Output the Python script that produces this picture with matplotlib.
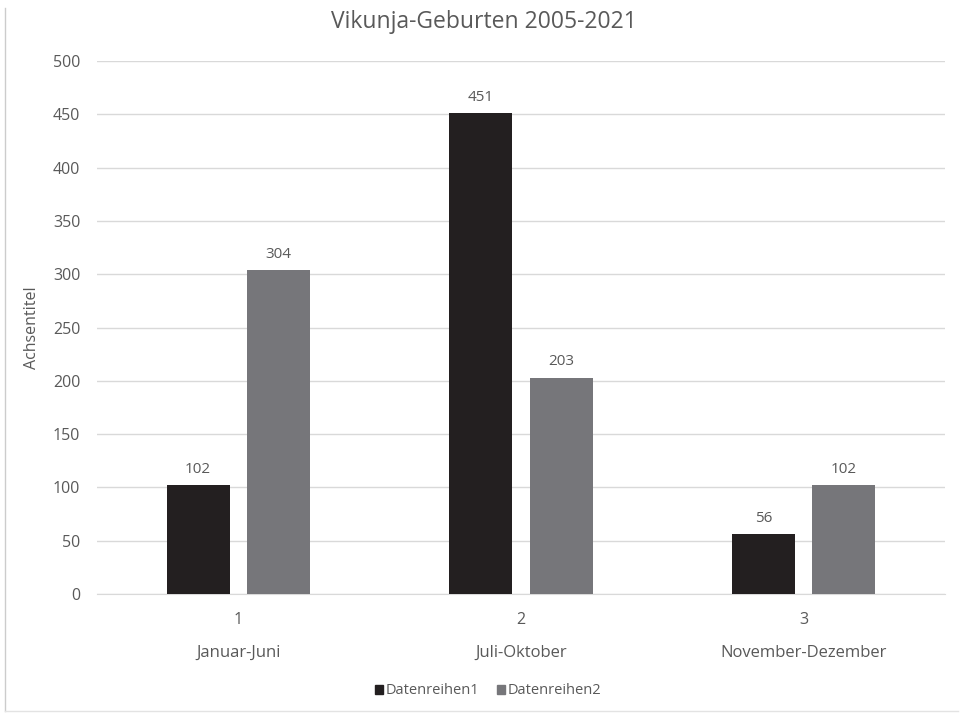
import matplotlib
matplotlib.use("Agg")
import matplotlib.pyplot as plt
import numpy as np
from matplotlib.patches import Patch
from matplotlib.lines import Line2D

plt.rcParams["font.family"] = ["Open Sans", "DejaVu Sans"]

# ── data ─────────────────────────────────────────────────────────────
tick_nums  = ["1", "2", "3"]
categories = ["Januar-Juni", "Juli-Oktober", "November-Dezember"]
series1    = [102, 451, 56]
series2    = [304, 203, 102]
names      = ["Datenreihen1", "Datenreihen2"]

TXT   = "#595959"
GRID  = "#d9d9d9"
C1, C2 = "#231f20", "#76767a"

fig = plt.figure(figsize=(9.63, 7.15), dpi=100)
ax = fig.add_axes([97/963, 1-594/715, 848/963, 533/715])

x = np.arange(len(categories))
w, off = 0.223, 0.142
b1 = ax.bar(x - off, series1, w, color=C1, zorder=3)
b2 = ax.bar(x + off, series2, w, color=C2, zorder=3)

for bars in (b1, b2):
    for r in bars:
        ax.annotate(f"{int(r.get_height())}", (r.get_x() + r.get_width()/2, r.get_height()),
                    xytext=(0, 6), textcoords="offset points", ha="center", va="bottom",
                    fontsize=11, color=TXT)

ax.set_xlim(-0.5, 2.5)
ax.set_ylim(0, 500)
ax.set_yticks(range(0, 501, 50))
ax.yaxis.grid(True, color=GRID, linewidth=1, zorder=0)
ax.tick_params(axis="y", length=0, pad=12, labelsize=11.5, labelcolor=TXT)
ax.set_xticks(x)
ax.set_xticklabels(tick_nums)
ax.tick_params(axis="x", length=0, pad=13, labelsize=11.5, labelcolor=TXT)
for s in ["top", "right", "left"]:
    ax.spines[s].set_visible(False)
ax.spines["bottom"].set_color(GRID)

trans = ax.get_xaxis_transform()
for xi, cat in zip(x, categories):
    ax.text(xi, -0.111, cat, transform=trans, ha="center", va="center",
            fontsize=12, color=TXT)

ax.set_ylabel("Achsentitel", fontsize=11.5, color=TXT)
ax.yaxis.set_label_coords(-0.067, 0.5)
fig.text(484/963, 1-22/715, "Vikunja-Geburten 2005-2021", ha="center", va="center",
         fontsize=16.5, color=TXT)

handles = [Patch(color=C1), Patch(color=C2)]
fig.legend(handles, names, loc="center", bbox_to_anchor=(488/963, 1-691/715), ncol=2,
           frameon=False, fontsize=10.5, labelcolor=TXT, handlelength=0.55, handleheight=0.55,
           handletextpad=0.2, columnspacing=1.2)

# partial chart frame (left and bottom edges)
fig.add_artist(Line2D([5/963, 5/963], [1-8/715, 1-711/715], color="#cccccc", lw=1,
                      transform=fig.transFigure))
fig.add_artist(Line2D([5/963, 958/963], [1-711/715, 1-711/715], color="#e3e3e3", lw=1,
                      transform=fig.transFigure))

fig.savefig("out.png", dpi=100)
